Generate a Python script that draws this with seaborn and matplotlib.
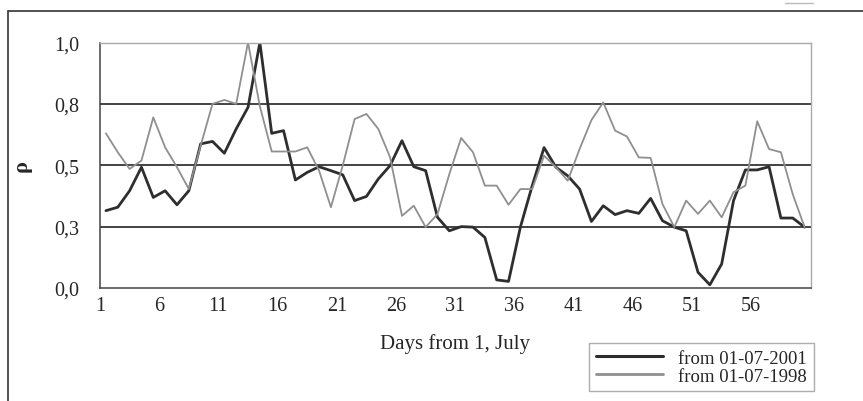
import numpy as np
import pandas as pd
import matplotlib
matplotlib.use("Agg")
import matplotlib.pyplot as plt
from matplotlib.lines import Line2D
import seaborn as sns

# Daily correlation coefficient, 60 days starting on 1 July
days = list(range(1, 61))
rho_2001 = [0.315, 0.329, 0.396, 0.492, 0.369, 0.396, 0.339, 0.396, 0.587, 0.597,
            0.549, 0.648, 0.736, 1.000, 0.630, 0.641, 0.440, 0.471, 0.494, 0.478,
            0.461, 0.356, 0.373, 0.444, 0.499, 0.600, 0.494, 0.478, 0.288, 0.233,
            0.250, 0.248, 0.206, 0.033, 0.027, 0.248, 0.417, 0.572, 0.492, 0.457,
            0.403, 0.271, 0.335, 0.299, 0.315, 0.304, 0.365, 0.274, 0.248, 0.233,
            0.064, 0.013, 0.098, 0.356, 0.481, 0.481, 0.494, 0.285, 0.285, 0.248]
rho_1998 = [0.630, 0.553, 0.485, 0.519, 0.695, 0.573, 0.492, 0.403, 0.580, 0.750,
            0.766, 0.750, 1.000, 0.740, 0.556, 0.556, 0.556, 0.573, 0.478, 0.329,
            0.499, 0.688, 0.709, 0.648, 0.532, 0.294, 0.335, 0.248, 0.301, 0.464,
            0.611, 0.553, 0.417, 0.417, 0.339, 0.403, 0.403, 0.539, 0.492, 0.437,
            0.566, 0.684, 0.756, 0.641, 0.617, 0.532, 0.530, 0.342, 0.248, 0.356,
            0.302, 0.356, 0.288, 0.390, 0.417, 0.679, 0.566, 0.553, 0.382, 0.248]
series_names = ["from 01-07-2001", "from 01-07-1998"]
y_ticks = [0.0, 0.25, 0.5, 0.75, 1.0]
y_tick_labels = ["0,0", "0,3", "0,5", "0,8", "1,0"]
x_tick_labels = ["1", "6", "11", "16", "21", "26", "31", "36", "41", "46", "51", "56"]

df = pd.DataFrame({"day": days, "r2001": rho_2001, "r1998": rho_1998})

sns.set_style("white")
plt.rcParams["font.family"] = ["Liberation Serif", "DejaVu Serif"]

W, H = 863, 402
fig = plt.figure(figsize=(W / 100, H / 100), dpi=100)
ax = fig.add_axes([100 / W, 1 - 289 / H, 710.5 / W, (289 - 43.5) / H])

sns.lineplot(data=df, x="day", y="r2001", ax=ax, color="#2e2e2e", linewidth=2.0,
             label=series_names[0], legend=False)
sns.lineplot(data=df, x="day", y="r1998", ax=ax, color="#8f8f8f", linewidth=1.3,
             label=series_names[1], legend=False)

ax.set_xlim(0.5, 60.5)
ax.set_ylim(0, 1)

# horizontal gridlines at every major y tick
for yv in y_ticks[1:]:
    ax.axhline(yv, color="#111111", linewidth=1.1, zorder=0.5)

ax.set_yticks(y_ticks)
ax.set_yticklabels(y_tick_labels, fontsize=14.5)
ax.set_xticks(np.arange(0.5, 61, 5))
ax.set_xticklabels(x_tick_labels + [""], fontsize=14.5)
ax.tick_params(axis="y", direction="out", length=8, width=1, color="#444444", pad=7)
ax.tick_params(axis="x", direction="in", length=6, width=1, color="#444444", pad=6)

for side in ["left", "bottom"]:
    ax.spines[side].set_color("#444444")
    ax.spines[side].set_linewidth(1.1)
for side in ["top", "right"]:
    ax.spines[side].set_color("#aaaaaa")
    ax.spines[side].set_linewidth(1.0)

ax.set_xlabel("Days from 1, July", fontsize=15, labelpad=13)
ax.set_ylabel("ρ", fontsize=16, fontweight="bold", labelpad=16)

handles = [Line2D([], [], color="#2e2e2e", linewidth=2.2),
           Line2D([], [], color="#8f8f8f", linewidth=2.0)]
leg = fig.legend(handles, series_names, loc="center",
                 bbox_to_anchor=(701.5 / W, 1 - 368 / H), fontsize=13.5,
                 frameon=True, fancybox=False, handlelength=3.6, handletextpad=0.8,
                 borderpad=0.35, labelspacing=0.05, borderaxespad=0)
leg.get_frame().set_edgecolor("#999999")
leg.get_frame().set_linewidth(1.0)

# outer frame around the chart
fig.add_artist(Line2D([8 / W, 8 / W], [0, 1 - 12 / H], color="#333333",
                      linewidth=1.2, transform=fig.transFigure))
fig.add_artist(Line2D([8 / W, 1], [1 - 12 / H, 1 - 12 / H], color="#333333",
                      linewidth=1.2, transform=fig.transFigure))
fig.add_artist(Line2D([785 / W, 813 / W], [1 - 4 / H, 1 - 4 / H], color="#bbbbbb",
                      linewidth=1.0, transform=fig.transFigure))

fig.savefig("out.png", dpi=100)
